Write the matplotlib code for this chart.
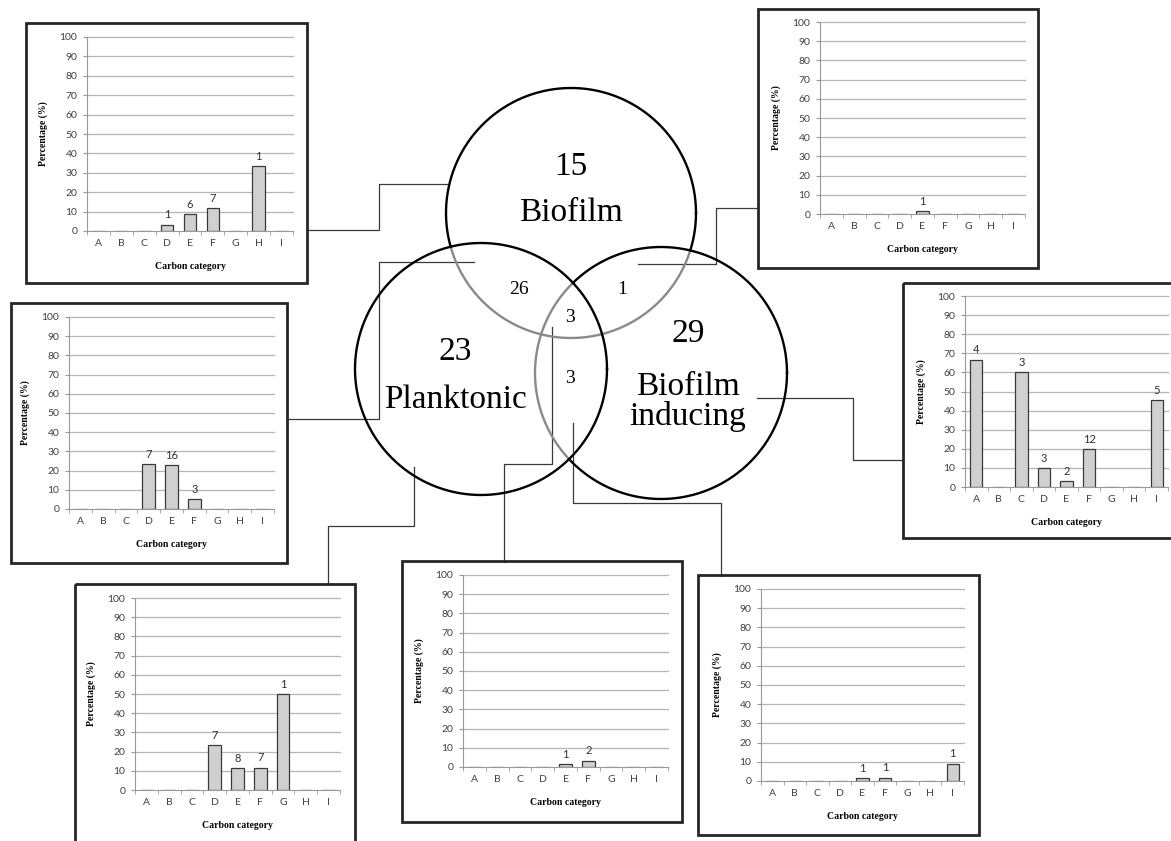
import numpy as np
import matplotlib
matplotlib.use('Agg')
import matplotlib.pyplot as plt
from matplotlib.patches import Rectangle

# carbon categories on every inset
categories = ['A', 'B', 'C', 'D', 'E', 'F', 'G', 'H', 'I']

# percentage per category and number of sources (bar labels), one inset each
biofilm_pct = [0, 0, 0, 3.3, 8.6, 11.7, 0, 33.3, 0]
biofilm_n = [0, 0, 0, 1, 6, 7, 0, 1, 0]
bio_ind_pct = [0, 0, 0, 0, 1.5, 0, 0, 0, 0]
bio_ind_n = [0, 0, 0, 0, 1, 0, 0, 0, 0]
inducing_pct = [66.7, 0, 60, 10, 3, 20, 0, 0, 45.5]
inducing_n = [4, 0, 3, 3, 2, 12, 0, 0, 5]
plank_bio_pct = [0, 0, 0, 23.3, 23, 5, 0, 0, 0]
plank_bio_n = [0, 0, 0, 7, 16, 3, 0, 0, 0]
planktonic_pct = [0, 0, 0, 23.3, 11.3, 11.7, 50, 0, 0]
planktonic_n = [0, 0, 0, 7, 8, 7, 1, 0, 0]
all_three_pct = [0, 0, 0, 0, 1.5, 3.3, 0, 0, 0]
all_three_n = [0, 0, 0, 0, 1, 2, 0, 0, 0]
plank_ind_pct = [0, 0, 0, 0, 1.5, 1.8, 0, 0, 9.1]
plank_ind_n = [0, 0, 0, 0, 1, 1, 0, 0, 1]

# venn region counts
venn_labels = ['Biofilm', 'Planktonic', 'Biofilm\ninducing']
venn_single = [15, 23, 29]
venn_pairs = [26, 1, 3]   # bio&plank, bio&ind, plank&ind
venn_center = 3

W, H = 1171, 841
fig = plt.figure(figsize=(W / 100, H / 100), dpi=100)
ax0 = fig.add_axes([0, 0, 1, 1])
ax0.set_xlim(0, W)
ax0.set_ylim(H, 0)
ax0.axis('off')

# circles: planktonic on top, then inducing, then biofilm
circles = {'bio': (571, 213, 125), 'plank': (481, 369, 126), 'ind': (661, 373, 126)}
order = ['plank', 'ind', 'bio']


def inside(x, y, c):
    return (x - c[0])**2 + (y - c[1])**2 < c[2]**2


t = np.linspace(0, 2 * np.pi, 1441)
for i, key in enumerate(order):
    cx, cy, r = circles[key]
    xs = cx + r * np.cos(t)
    ys = cy + r * np.sin(t)
    grey = np.zeros_like(t, dtype=bool)
    for k in order[:i]:
        grey |= inside(xs, ys, circles[k])
    blk_x = np.where(~grey, xs, np.nan)
    gry_x = np.where(grey, xs, np.nan)
    ax0.plot(gry_x, ys, color='#8a8a8a', lw=1.7, zorder=3)
    ax0.plot(blk_x, ys, color='black', lw=1.7, zorder=4)

serif = 'Liberation Serif'
ax0.text(571, 167, str(venn_single[0]), ha='center', va='center', fontsize=24, family=serif)
ax0.text(571, 213, venn_labels[0], ha='center', va='center', fontsize=24, family=serif)
ax0.text(455, 352, str(venn_single[1]), ha='center', va='center', fontsize=24, family=serif)
ax0.text(455, 400, venn_labels[1], ha='center', va='center', fontsize=24, family=serif)
ax0.text(688, 334, str(venn_single[2]), ha='center', va='center', fontsize=24, family=serif)
ax0.text(688, 402, venn_labels[2], ha='center', va='center', fontsize=24, family=serif,
         linespacing=0.95)
ax0.text(519, 290, str(venn_pairs[0]), ha='center', va='center', fontsize=14, family=serif)
ax0.text(622, 290, str(venn_pairs[1]), ha='center', va='center', fontsize=14, family=serif)
ax0.text(570, 378, str(venn_pairs[2]), ha='center', va='center', fontsize=14, family=serif)
ax0.text(570, 318, str(venn_center), ha='center', va='center', fontsize=14, family=serif)

# connector lines from venn regions to the insets
connectors = [
    [(307, 230), (379, 230), (379, 184), (447, 184)],
    [(287, 419), (379, 419), (379, 262), (474, 262)],
    [(638, 264), (716, 264), (716, 208), (758, 208)],
    [(757, 398), (853, 398), (853, 460), (903, 460)],
    [(414, 467), (414, 526), (328, 526), (328, 584)],
    [(552, 327), (552, 464), (504, 464), (504, 562)],
    [(573, 423), (573, 503), (721, 503), (721, 576)],
]
for path in connectors:
    xs, ys = zip(*path)
    ax0.plot(xs, ys, color='#3a3a3a', lw=0.9, zorder=2)

# inset boxes: (box x0, y0, x1, y1), (plot x0, y_top, x1, y_bottom)
insets = [
    ((26, 23, 307, 283), (87, 37, 293, 231), biofilm_pct, biofilm_n),
    ((758, 9, 1038, 268), (820, 22, 1025, 214), bio_ind_pct, bio_ind_n),
    ((903, 283, 1183, 538), (965, 296, 1168, 487), inducing_pct, inducing_n),
    ((11, 303, 287, 563), (69, 317, 274, 509), plank_bio_pct, plank_bio_n),
    ((75, 584, 355, 848), (135, 598, 340, 790), planktonic_pct, planktonic_n),
    ((402, 561, 682, 822), (463, 575, 668, 767), all_three_pct, all_three_n),
    ((698, 575, 979, 835), (761, 589, 964, 781), plank_ind_pct, plank_ind_n),
]

for box, area, pct, n in insets:
    bx0, by0, bx1, by1 = box
    ax0.add_patch(Rectangle((bx0, by0), bx1 - bx0, by1 - by0, fill=False,
                            edgecolor='#262626', lw=2.0, zorder=5))
    px0, py0, px1, py1 = area
    ax = fig.add_axes([px0 / W, 1 - py1 / H, (px1 - px0) / W, (py1 - py0) / H])
    ax.patch.set_alpha(0)
    x = np.arange(len(categories))
    for yv in range(10, 101, 10):
        ax.axhline(yv, color='#b5b5b5', lw=0.9, zorder=0, clip_on=False)
    ax.bar(x, pct, width=0.55, color='#d0d0d0', edgecolor='#3a3a3a', lw=0.9, zorder=2)
    for xi, p, c in zip(x, pct, n):
        if c > 0:
            ax.annotate(str(c), (xi, p), xytext=(0, 3), textcoords='offset points',
                        ha='center', va='bottom', fontsize=8, color='#303030', family='Lato')
    ax.set_xlim(-0.5, 8.5)
    ax.set_ylim(0, 100)
    ax.set_yticks(range(0, 101, 10))
    ax.set_xticks(x)
    ax.set_xticklabels(categories)
    ax.set_xticks(np.arange(-0.5, 9, 1), minor=True)
    ax.tick_params(axis='x', which='major', length=0, pad=6, labelsize=7.5,
                   labelcolor='#404040')
    ax.tick_params(axis='x', which='minor', length=3, color='#999999')
    ax.tick_params(axis='y', length=3, color='#999999', pad=4, labelsize=7.5,
                   labelcolor='#404040')
    for lab in ax.get_xticklabels() + ax.get_yticklabels():
        lab.set_family('Lato')
    for s in ['top', 'right']:
        ax.spines[s].set_visible(False)
    ax.spines['left'].set_color('#999999')
    ax.spines['bottom'].set_color('#999999')
    ax.set_ylabel('Percentage (%)', fontsize=7, fontweight='bold', family=serif)
    ax.set_xlabel('Carbon category', fontsize=7, fontweight='bold', family=serif)
    ax.yaxis.set_label_coords(-39 / (px1 - px0), 0.5)
    ax.xaxis.set_label_coords(0.5, -31 / (py1 - py0))

fig.savefig('out.png', dpi=100)
